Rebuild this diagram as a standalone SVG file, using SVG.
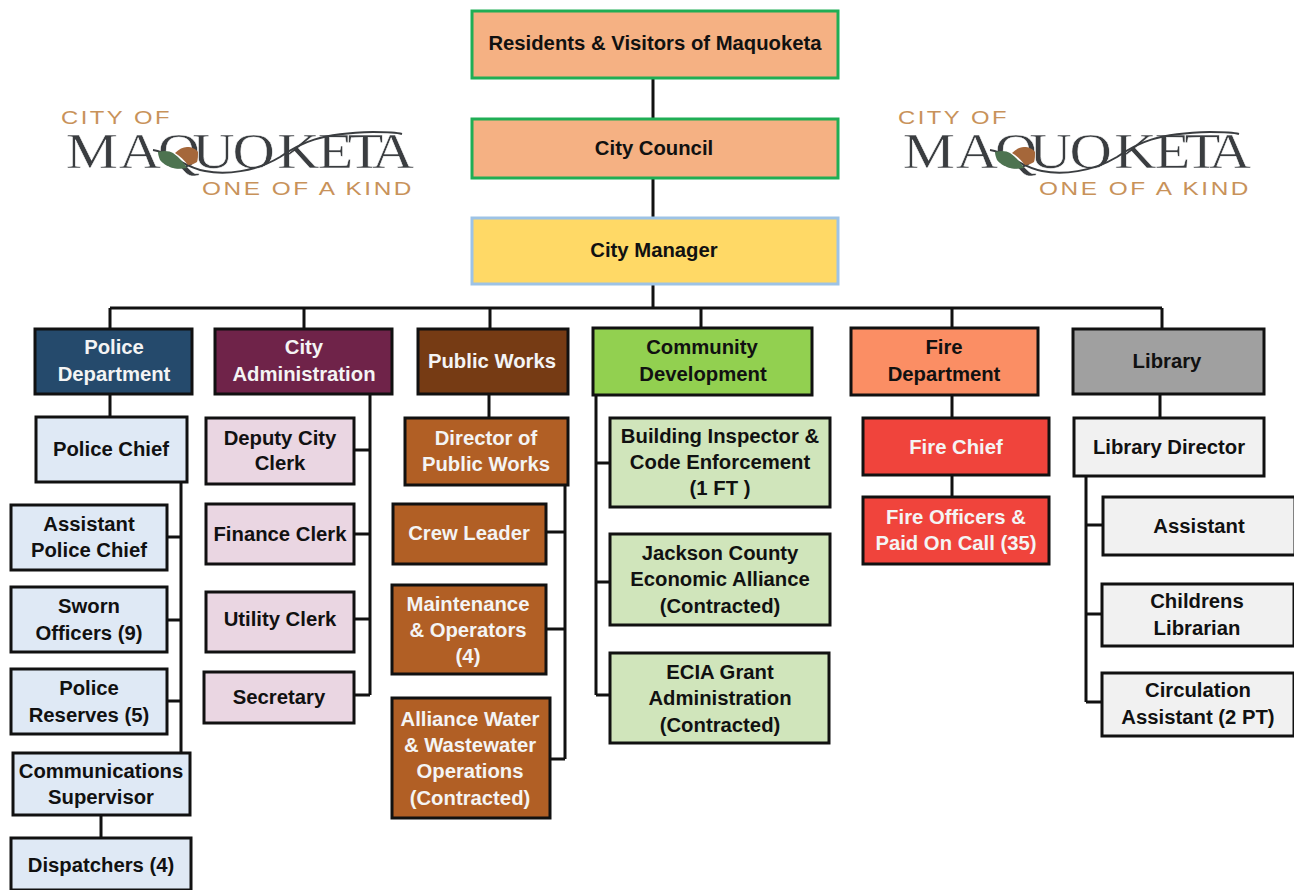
<svg xmlns="http://www.w3.org/2000/svg" xmlns:xlink="http://www.w3.org/1999/xlink" width="1294" height="890" viewBox="0 0 1294 890">
<style>
text{font-family:"Liberation Sans",Arial,sans-serif;font-size:20.3px;font-weight:700;text-anchor:middle;fill:#111}
.w{fill:#f4f4f4}
rect{stroke:#111;stroke-width:3}
.c path{fill:none;stroke:#111;stroke-width:3}
.top{stroke:#1fae55}
.lg{font-size:19px;font-weight:400;fill:#c8925a;text-anchor:start;letter-spacing:2px}
.lm{font-family:"Liberation Serif",serif;font-size:51px;font-weight:400;fill:#3a3d40;text-anchor:start;stroke:#fff;stroke-width:.5px}
.sw{fill:none;stroke:#3a3d40;stroke-width:2}
.pd{fill:#dfe9f5}.ca{fill:#ead6e2}.pw{fill:#b15f25}.cd{fill:#d0e5bb}.li{fill:#f1f1f1}
</style>
<defs>
<g id="logo">
<text class="lg" x="61" y="124" textLength="111" lengthAdjust="spacingAndGlyphs">CITY OF</text>
<text class="lm" transform="translate(60 168) scale(1.15 1)" x="5 51 85 115 150 189 224 250 271" y="0">MAQUOKETA</text>
<text class="lg" x="202" y="195" textLength="212" lengthAdjust="spacingAndGlyphs">ONE OF A KIND</text>
<path class="sw" d="M153 150C170 152 185 168 205 171C225 175 255 172 280 157C300 143 320 133 373 132C385 132 395 132 402 134"/>
<path d="M158 152C164 150 170 151 173 153C180 158 184 163 187 168C181 169 176 169 173 168C167 166 162 163 160 160C159 157 158 155 158 152Z" fill="#4d7350"/>
<path d="M175 153C179 149 183 147 187 147C192 147 196 149 198 152C198 156 198 159 197 162C194 164 191 165 188 165C184 160 180 156 175 153Z" fill="#a5673a"/>
</g>
</defs>
<g class="c" id="connectors">
<path d="M653 78V308M110 308H1162M110 308V328M304 308V328M490 308V328M701 308V328M952 308V328M1162 308V328"/>
<path d="M110 394V417M181 482V752M167 537H181M167 620H181M167 701H181M101 815V838"/>
<path d="M370 394V695M354 450H370M354 534H370M354 619H370M354 695H370"/>
<path d="M489 394V418M565 485V759M546 532H565M546 629H565M550 759H565"/>
<path d="M596 395V695M596 463H610M596 582H610M596 695H610"/>
<path d="M952 395V418M952 475V497"/>
<path d="M1160 394V418M1086 476V702M1086 525H1103M1086 614H1102M1086 702H1102"/>
</g>
<g id="logo-left"><use xlink:href="#logo" href="#logo"/></g>
<g id="logo-right"><use xlink:href="#logo" href="#logo" x="837"/></g>
<g id="residents"><rect class="top" x="472" y="11" width="366" height="67" fill="#f5b183"/><text x="655" y="50">Residents &amp; Visitors of Maquoketa</text></g>
<g id="council"><rect class="top" x="472" y="119" width="366" height="59" fill="#f5b183"/><text x="654" y="155">City Council</text></g>
<g id="manager"><rect x="472" y="218" width="366" height="66" fill="#ffd966" style="stroke:#9dc3e6"/><text x="654" y="257">City Manager</text></g>
<g id="police-dept"><rect x="35" y="329" width="157" height="65" fill="#254a6c"/><text class="w" x="114" y="354">Police</text><text class="w" x="114" y="381">Department</text></g>
<g id="city-admin"><rect x="215" y="329" width="177" height="65" fill="#6f2349"/><text class="w" x="304" y="354">City</text><text class="w" x="304" y="381">Administration</text></g>
<g id="public-works"><rect x="418" y="329" width="150" height="65" fill="#763b14"/><text class="w" x="492" y="368">Public Works</text></g>
<g id="community"><rect x="593" y="328" width="219" height="67" fill="#92d050"/><text x="702" y="354">Community</text><text x="703" y="381">Development</text></g>
<g id="fire-dept"><rect x="851" y="328" width="187" height="67" fill="#fb8e64"/><text x="944" y="354">Fire</text><text x="944" y="381">Department</text></g>
<g id="library"><rect x="1073" y="329" width="191" height="65" fill="#a0a0a0"/><text x="1167" y="368">Library</text></g>
<g id="police-chief"><rect class="pd" x="36" y="417" width="151" height="65"/><text x="111" y="456">Police Chief</text></g>
<g id="asst-chief"><rect class="pd" x="11" y="505" width="156" height="65"/><text x="89" y="531">Assistant</text><text x="89" y="557">Police Chief</text></g>
<g id="sworn"><rect class="pd" x="11" y="587" width="156" height="65"/><text x="89" y="613">Sworn</text><text x="89" y="640">Officers (9)</text></g>
<g id="reserves"><rect class="pd" x="11" y="669" width="156" height="65"/><text x="89" y="695">Police</text><text x="89" y="722">Reserves (5)</text></g>
<g id="comms"><rect class="pd" x="13" y="753" width="177" height="62"/><text x="101" y="778">Communications</text><text x="101" y="804">Supervisor</text></g>
<g id="dispatchers"><rect class="pd" x="11" y="838" width="180" height="52"/><text x="101" y="872">Dispatchers (4)</text></g>
<g id="deputy"><rect class="ca" x="206" y="418" width="148" height="66"/><text x="280" y="445">Deputy City</text><text x="280" y="470">Clerk</text></g>
<g id="finance"><rect class="ca" x="206" y="504" width="148" height="60"/><text x="280" y="541">Finance Clerk</text></g>
<g id="utility"><rect class="ca" x="206" y="592" width="148" height="60"/><text x="280" y="626">Utility Clerk</text></g>
<g id="secretary"><rect class="ca" x="204" y="672" width="150" height="51"/><text x="279" y="704">Secretary</text></g>
<g id="director"><rect class="pw" x="405" y="418" width="163" height="67"/><text class="w" x="486" y="445">Director of</text><text class="w" x="486" y="471">Public Works</text></g>
<g id="crew"><rect class="pw" x="393" y="504" width="153" height="60"/><text class="w" x="469" y="540">Crew Leader</text></g>
<g id="maintenance"><rect class="pw" x="392" y="585" width="154" height="89"/><text class="w" x="468" y="611">Maintenance</text><text class="w" x="468" y="637">&amp; Operators</text><text class="w" x="468" y="663">(4)</text></g>
<g id="alliance"><rect class="pw" x="392" y="698" width="158" height="120"/><text class="w" x="470" y="726">Alliance Water</text><text class="w" x="470" y="752">&amp; Wastewater</text><text class="w" x="470" y="778">Operations</text><text class="w" x="470" y="805">(Contracted)</text></g>
<g id="inspector"><rect class="cd" x="610" y="418" width="220" height="89"/><text x="720" y="443">Building Inspector &amp;</text><text x="720" y="469">Code Enforcement</text><text x="720" y="495">(1 FT )</text></g>
<g id="jackson"><rect class="cd" x="610" y="534" width="220" height="91"/><text x="720" y="560">Jackson County</text><text x="720" y="586">Economic Alliance</text><text x="720" y="613">(Contracted)</text></g>
<g id="ecia"><rect class="cd" x="610" y="653" width="219" height="90"/><text x="720" y="679">ECIA Grant</text><text x="720" y="705">Administration</text><text x="720" y="732">(Contracted)</text></g>
<g id="fire-chief"><rect x="863" y="418" width="186" height="57" fill="#f0443c"/><text class="w" x="956" y="454">Fire Chief</text></g>
<g id="fire-officers"><rect x="863" y="497" width="186" height="67" fill="#f0443c"/><text class="w" x="956" y="524">Fire Officers &amp;</text><text class="w" x="956" y="550">Paid On Call (35)</text></g>
<g id="lib-director"><rect class="li" x="1074" y="418" width="190" height="58"/><text x="1169" y="454">Library Director</text></g>
<g id="assistant"><rect class="li" x="1103" y="497" width="192" height="58"/><text x="1199" y="533">Assistant</text></g>
<g id="childrens"><rect class="li" x="1102" y="584" width="192" height="62"/><text x="1197" y="608">Childrens</text><text x="1197" y="635">Librarian</text></g>
<g id="circulation"><rect class="li" x="1102" y="673" width="192" height="63"/><text x="1198" y="697">Circulation</text><text x="1198" y="724">Assistant (2 PT)</text></g>
</svg>
